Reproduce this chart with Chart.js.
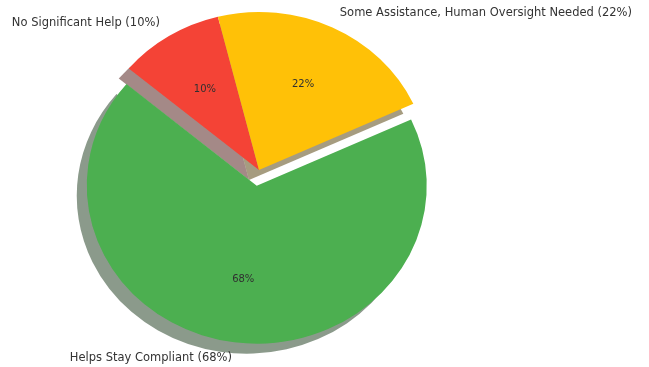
<!DOCTYPE html>
<html><head><meta charset="utf-8">
<script src="https://cdn.jsdelivr.net/npm/chart.js@4.4.1/dist/chart.umd.min.js"></script>
<style>html,body{margin:0;padding:0;background:#fff;} #wrap{width:649px;height:367px;position:relative;}</style>
</head><body><div id="wrap"><canvas id="c"></canvas></div>
<script>
const categories = ['No Significant Help', 'Some Assistance, Human Oversight Needed', 'Helps Stay Compliant'];
const values = [10, 22, 68];
const colors = ['#F44336', '#FFC107', '#4CAF50'];
const explode = [0, 0, 0.1];

const RX = 170, RY = 158;
const SCALE_Y = RY / RX;
const SHADOW_DX = -10, SHADOW_DY = 10;

function shadowColor(hex) {
  const n = parseInt(hex.slice(1), 16);
  const r = (n >> 16) & 255, g = (n >> 8) & 255, b = n & 255;
  return `rgba(${Math.round(r*0.3)},${Math.round(g*0.3)},${Math.round(b*0.3)},0.5)`;
}
function applyEllipse(ctx, cx, cy) {
  ctx.translate(cx, cy); ctx.scale(1, SCALE_Y); ctx.translate(-cx, -cy);
}

const piePlugin = {
  id: 'mplPie',
  beforeDatasetsDraw(chart) {
    const ctx = chart.ctx;
    const meta = chart.getDatasetMeta(0);
    const cx = meta.data[0].x, cy = meta.data[0].y;
    ctx.save();
    applyEllipse(ctx, cx, cy);
    meta.data.forEach((el, i) => {
      if (!el._wrapped) {
        const orig = el.draw;
        el.draw = function(c, area) {
          const mid = (this.startAngle + this.endAngle) / 2;
          const d = explode[i] * this.outerRadius;
          c.save(); c.translate(Math.cos(mid) * d, Math.sin(mid) * d);
          orig.call(this, c, area);
          c.restore();
        };
        el._wrapped = true;
      }
    });
    meta.data.forEach((el, i) => {
      const mid = (el.startAngle + el.endAngle) / 2;
      const d = explode[i] * el.outerRadius;
      const ox = el.x + Math.cos(mid) * d + SHADOW_DX;
      const oy = el.y + Math.sin(mid) * d + SHADOW_DY / SCALE_Y;
      ctx.beginPath();
      ctx.moveTo(ox, oy);
      ctx.arc(ox, oy, el.outerRadius, el.startAngle, el.endAngle);
      ctx.closePath();
      ctx.fillStyle = shadowColor(colors[i]);
      ctx.fill();
    });
  },
  afterDatasetsDraw(chart) {
    chart.ctx.restore();
  },
  afterDraw(chart) {
    const ctx = chart.ctx;
    const meta = chart.getDatasetMeta(0);
    meta.data.forEach((el, i) => {
      const mid = (el.startAngle + el.endAngle) / 2;
      const R = el.outerRadius;
      const d = explode[i] * R;
      const dx = Math.cos(mid), dy = Math.sin(mid);
      const bx = el.x + dx * d, by = el.y + dy * d;
      const lx = bx + dx * 1.1 * R, ly = el.y + (by + dy * 1.1 * R - el.y) * SCALE_Y;
      const px = bx + dx * 0.6 * R, py = el.y + (by + dy * 0.6 * R - el.y) * SCALE_Y;
      ctx.save();
      ctx.fillStyle = '#333333';
      ctx.font = '11.5px "DejaVu Sans"';
      ctx.textBaseline = 'middle';
      ctx.textAlign = lx > el.x ? 'left' : 'right';
      ctx.fillText(categories[i] + ' (' + values[i] + '%)', lx, ly);
      ctx.font = '10px "DejaVu Sans"';
      ctx.textAlign = 'center';
      ctx.fillStyle = '#303030';
      ctx.fillText(values[i] + '%', px, py);
      ctx.restore();
    });
  }
};

new Chart(document.getElementById('c'), {
  type: 'pie',
  data: { labels: categories, datasets: [{ data: values, backgroundColor: colors, borderWidth: 0, clip: false }] },
  options: {
    responsive: true, maintainAspectRatio: false, animation: false, events: [],
    rotation: -50, radius: RX,
    layout: { padding: { left: 0, right: 131, top: 0, bottom: 27 } },
    plugins: { legend: { display: false }, tooltip: { enabled: false } }
  },
  plugins: [piePlugin]
});
</script></body></html>
